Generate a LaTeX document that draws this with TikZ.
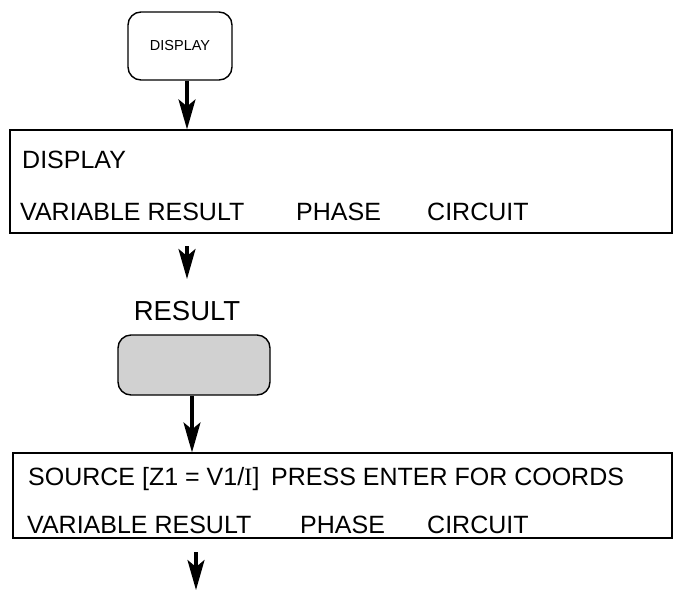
\documentclass[tikz,border=0pt]{standalone}
\usepackage{fontspec}
\setmainfont{Liberation Sans}
\newfontfamily\serI{Liberation Serif}
\usetikzlibrary{arrows.meta}
\begin{document}
\begin{tikzpicture}[x=1pt,y=-1pt,
  arr/.style={line width=3.2pt,-{Stealth[length=30pt,width=17pt,inset=7pt]}},
  panel/.style={draw,line width=1.2pt,rectangle,inner sep=0pt},
  key/.style={draw,line width=1.4pt,rounded corners=13pt,inner sep=0pt},
  txt/.style={anchor=base west,font=\fontsize{25}{25}\selectfont,inner sep=0pt}]
\useasboundingbox (0,0) rectangle (674,590);
% top key
\node[key,minimum width=104pt,minimum height=68pt,font=\fontsize{14.5}{14.5}\selectfont] (k) at (180,46) {DISPLAY};
% panel 1
\node[panel,minimum width=662pt,minimum height=103pt] (d1) at (341,181.5) {};
\node[txt] (d1a) at (22,168) {DISPLAY};
\node[txt] (d1b) at (20,220) {VARIABLE RESULT};
\node[txt] (d1c) at (296,220) {PHASE};
\node[txt] (d1d) at (427,220) {CIRCUIT};
% result label and shaded key
\node[anchor=base,inner sep=0pt,font=\fontsize{27.5}{27.5}\selectfont] (rl) at (187,320) {RESULT};
\node[key,fill=black!18,minimum width=152pt,minimum height=60pt] (rk) at (194,365) {};
% panel 2
\node[panel,minimum width=659pt,minimum height=85pt] (d2) at (342.5,495.5) {};
\node[txt] (d2a) at (28,485) {SOURCE [Z1 = V1/{\serI I}]};
\node[txt] (d2b) at (271,485) {PRESS ENTER FOR COORDS};
\node[txt] (d2c) at (27,533) {VARIABLE RESULT};
\node[txt] (d2d) at (300,533) {PHASE};
\node[txt] (d2e) at (427,533) {CIRCUIT};
% connector end points
\coordinate (a2s) at (187,246);
\coordinate (a2e) at (187,279);
\coordinate (a4s) at (196,552);
\coordinate (end) at (196,590);
% connectors
\draw[arr] (k.south -| a2s) -- (d1.north -| a2s);
\draw[arr] (a2s) -- (a2e);
\draw[arr] ([xshift=-2pt]rk.south) -- ([xshift=-2pt]rk.south |- d2.north);
\draw[arr] (a4s) -- (end);
\end{tikzpicture}
\end{document}
